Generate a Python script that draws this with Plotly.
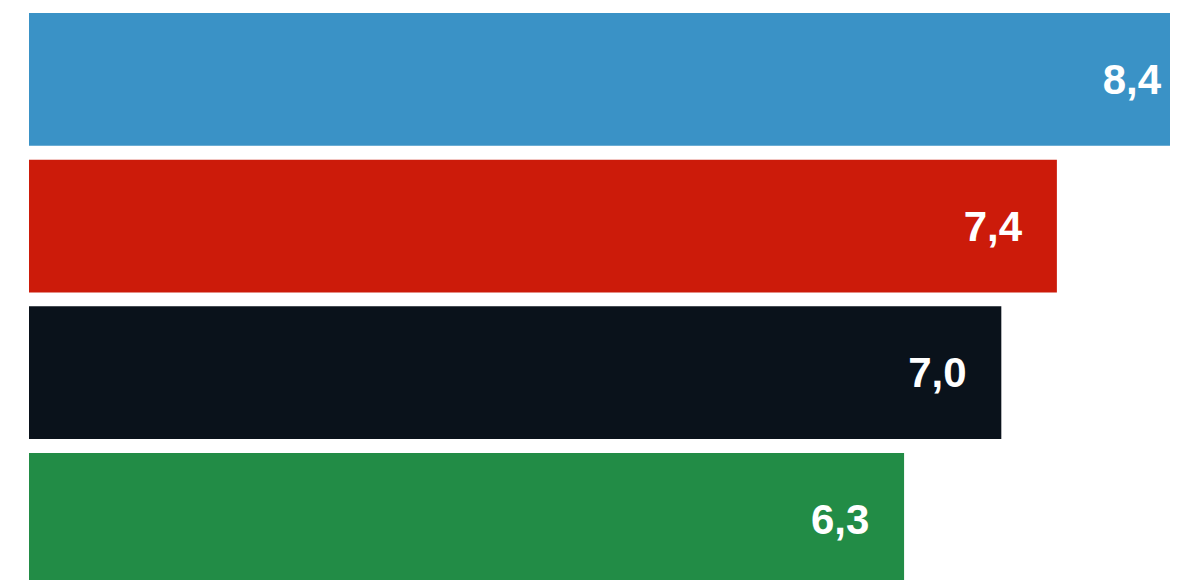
import plotly.graph_objects as go

categories = ["A", "B", "C", "D"]
values = [8.4, 7.4, 7.0, 6.3]
colors = ["#3A92C6", "#CC1B0A", "#0A121B", "#228C46"]

pad = "\u00a0\u00a0\u2009"

fig = go.Figure(
    go.Bar(
        y=list(range(len(categories))),
        x=values,
        orientation="h",
        marker=dict(color=colors, line=dict(width=0)),
        texttemplate="<b>%{x:.1f}</b>" + pad,
        textposition="inside",
        insidetextanchor="end",
        textfont=dict(color="white", size=42, family="Arial, 'Liberation Sans', sans-serif"),
        hoverinfo="skip",
    )
)

fig.update_layout(
    width=1170,
    height=580,
    margin=dict(l=21, r=0, t=0, b=0),
    paper_bgcolor="white",
    plot_bgcolor="white",
    separators=",.",
    bargap=0.095,
    showlegend=False,
    xaxis=dict(range=[0, 8.272], visible=False, fixedrange=True),
    yaxis=dict(range=[3.468, -0.4864], visible=False, fixedrange=True),
)

fig.write_html("out.html")
